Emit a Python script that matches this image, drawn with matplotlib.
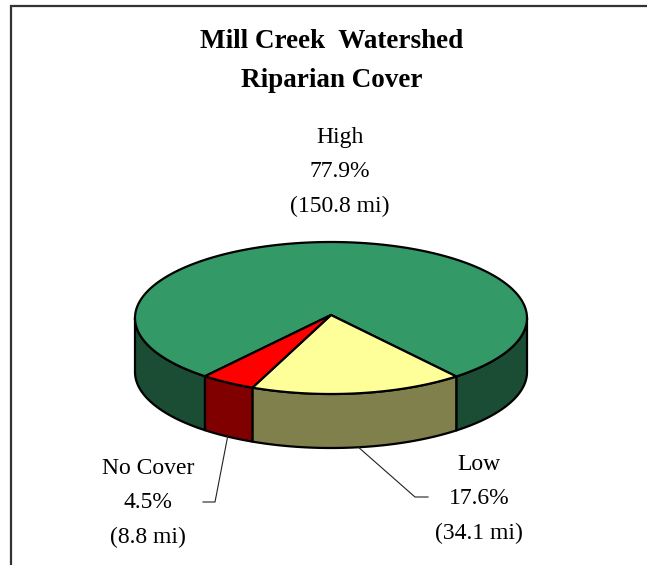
import numpy as np
import matplotlib
matplotlib.use('Agg')
import matplotlib.pyplot as plt
from matplotlib.patches import Polygon

plt.rcParams['font.family'] = ['Liberation Serif', 'DejaVu Serif']

# riparian cover, stream miles
categories = ['High', 'Low', 'No Cover']
miles = [150.8, 34.1, 8.8]
top_colors = ['#339966', '#FFFF99', '#FF0000']
side_colors = ['#1A4D33', '#80804D', '#800000']

title = 'Mill Creek  Watershed\nRiparian Cover'

# pie geometry in pixel units
W, H = 647, 565
cx, cy = 331, 318
rx, ry = 196, 76
depth = 54
start = 230.0   # first slice starts here and runs clockwise


def ell(t, dy=0.0):
    t = np.radians(t)
    return np.column_stack([cx + rx * np.cos(t), cy - ry * np.sin(t) + dy])


fig = plt.figure(figsize=(W / 100, H / 100), dpi=100)
ax = fig.add_axes([0, 0, 1, 1])
ax.set_xlim(0, W)
ax.set_ylim(H, 0)
ax.axis('off')

total = sum(miles)
frac = [m / total for m in miles]
edges = start - 360 * np.concatenate([[0], np.cumsum(frac)])

slices = []
for i in range(len(miles)):
    a1, a2 = edges[i + 1], edges[i]
    # keep a1 in [-180, 180)
    shift = np.floor((a1 + 180) / 360) * 360
    slices.append((a1 - shift, a2 - shift))

# side walls (front half only)
for i, (a1, a2) in enumerate(slices):
    for f1, f2 in [(-180, 0), (180, 360)]:
        lo, hi = max(a1, f1), min(a2, f2)
        if hi <= lo:
            continue
        t = np.linspace(lo, hi, 120)
        pts = np.vstack([ell(t), ell(t[::-1], depth)])
        ax.add_patch(Polygon(pts, closed=True, fc=side_colors[i], ec='black',
                             lw=1.6, joinstyle='round', zorder=2))

# top faces
for i, (a1, a2) in enumerate(slices):
    t = np.linspace(a1, a2, 300)
    pts = np.vstack([[cx, cy - 3], ell(t)])
    ax.add_patch(Polygon(pts, closed=True, fc=top_colors[i], ec='black',
                         lw=1.6, joinstyle='round', zorder=3))

# data labels
labels = ['%s\n%.1f%%\n(%.1f mi)' % (c, 100 * f, m)
          for c, f, m in zip(categories, frac, miles)]
label_xy = [(340, 172), (479, 499), (148, 503)]
for lab, (x, y) in zip(labels, label_xy):
    ax.text(x, y, lab, ha='center', va='center', fontsize=17,
            linespacing=1.86, color='black')

# leader lines from the bottom rim of the small slices
leaders = {1: [(415, 497), (428, 497)], 2: [(215, 502), (203, 502)]}
for i, pts in leaders.items():
    a1, a2 = slices[i]
    x0, y0 = ell([(a1 + a2) / 2], depth)[0]
    xs = [x0] + [p[0] for p in pts]
    ys = [y0] + [p[1] for p in pts]
    ax.plot(xs, ys, color='#222222', lw=0.8, zorder=4)

ax.text(332, 61, title, ha='center', va='center', fontsize=19.5,
        fontweight='bold', linespacing=1.75)

# chart area border
ax.plot([11, 11, W + 5], [H + 5, 6, 6], color='#333333', lw=1.6,
        solid_joinstyle='miter', clip_on=False)

fig.savefig('out.png', dpi=100)
